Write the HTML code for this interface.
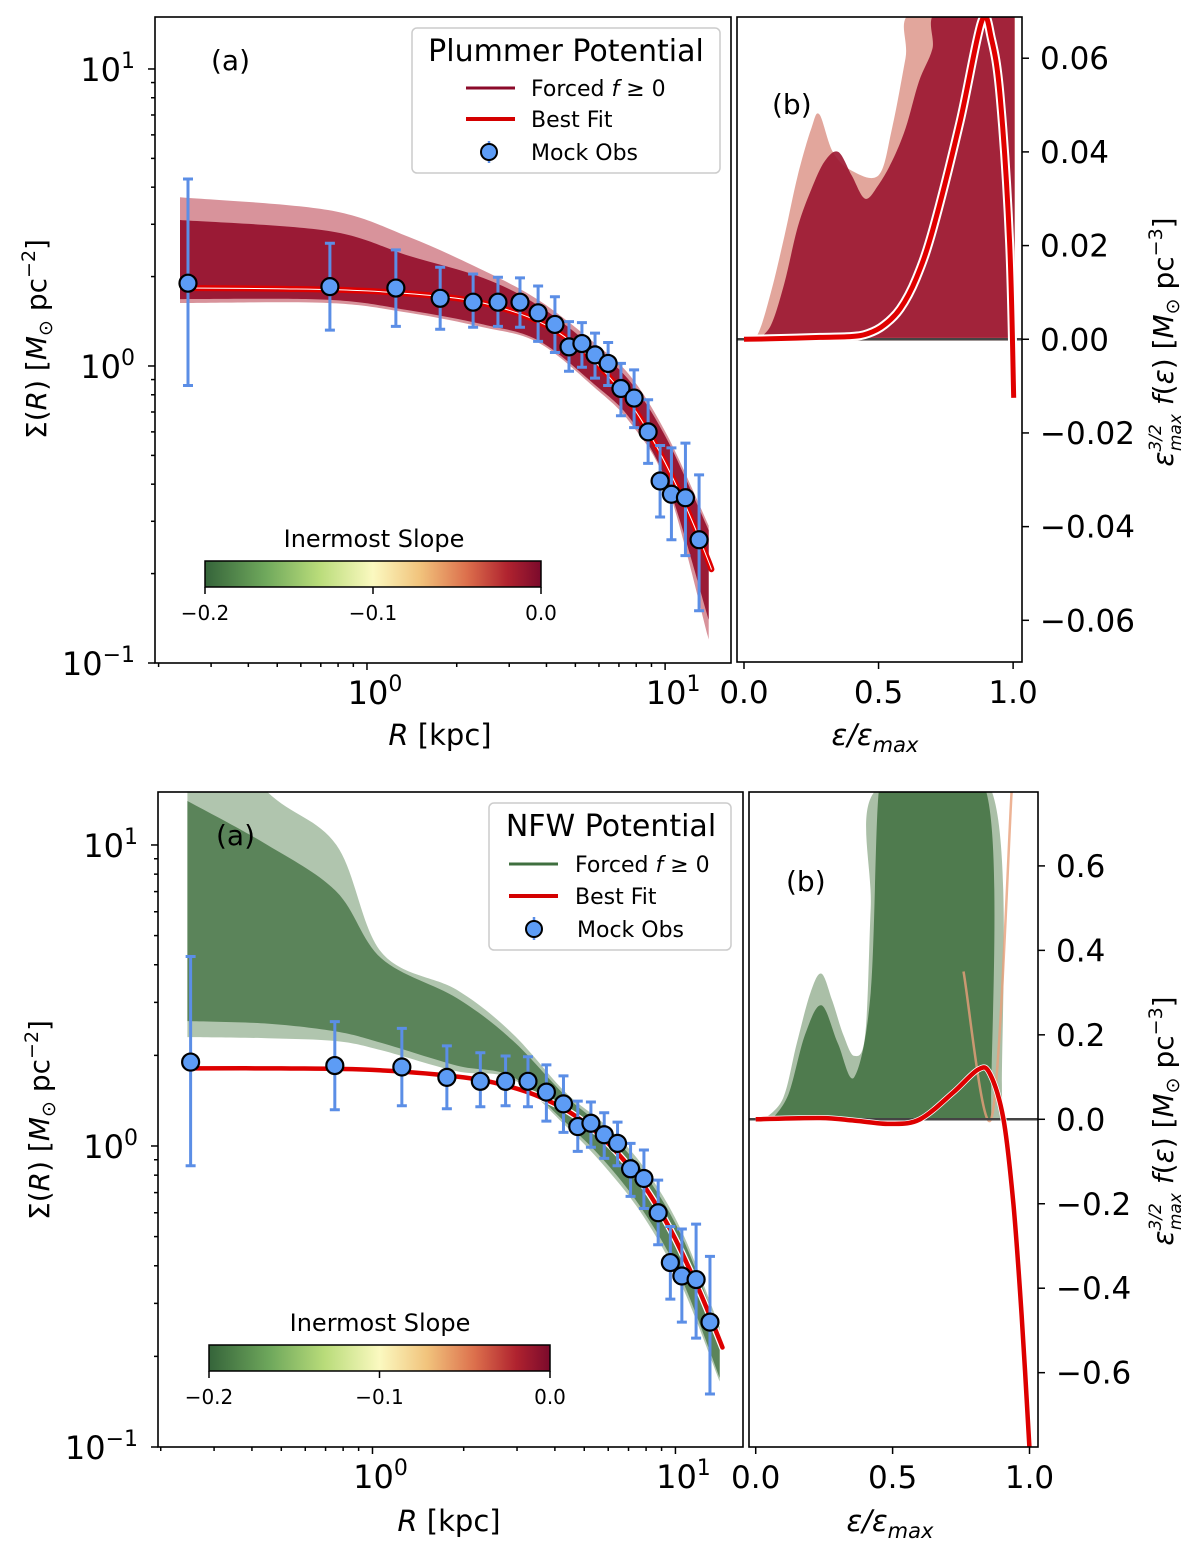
<!DOCTYPE html>
<html><head><meta charset="utf-8"><title>Plummer and NFW potential fits</title>
<style>
html,body{margin:0;padding:0;background:#fff;}
svg{display:block;font-family:"DejaVu Sans","Liberation Sans",sans-serif;}
</style></head>
<body>
<svg id="fig" width="1200" height="1557" viewBox="0 0 1200 1557" xmlns="http://www.w3.org/2000/svg">
<defs>
<linearGradient id="cmap" x1="0" x2="1" y1="0" y2="0">
<stop offset="0" stop-color="#35643a"/><stop offset="0.18" stop-color="#6fa85c"/><stop offset="0.34" stop-color="#b9dc7a"/>
<stop offset="0.5" stop-color="#fbf9c0"/><stop offset="0.64" stop-color="#f1c37c"/><stop offset="0.78" stop-color="#dc6f4c"/>
<stop offset="0.9" stop-color="#b0232f"/><stop offset="1" stop-color="#7b0a2c"/>
</linearGradient>
<clipPath id="cA1"><rect x="155" y="17" width="576" height="646"/></clipPath>
<clipPath id="cB1"><rect x="737" y="17" width="285" height="645"/></clipPath>
<clipPath id="cA2"><rect x="158" y="792" width="585" height="655"/></clipPath>
<clipPath id="cB2"><rect x="749" y="792" width="289" height="655"/></clipPath>
</defs>
<g id="marks"></g>
<g id="axes"></g>

<rect x="155" y="17" width="576" height="646" fill="none" stroke="#000" stroke-width="1.6"/>
<rect x="737" y="17" width="285" height="645" fill="none" stroke="#000" stroke-width="1.6"/>
<rect x="158" y="792" width="585" height="655" fill="none" stroke="#000" stroke-width="1.6"/>
<rect x="749" y="792" width="289" height="655" fill="none" stroke="#000" stroke-width="1.6"/>

<text x="211" y="70" font-size="28">(a)</text>
<text x="772" y="114" font-size="28">(b)</text>
<text x="216" y="845" font-size="28">(a)</text>
<text x="786" y="891" font-size="28">(b)</text>

<g>
<rect x="412" y="28" width="308" height="145" rx="5" fill="#fff" fill-opacity="0.85" stroke="#cccccc" stroke-width="1.5"/>
<text x="566" y="61" font-size="30" text-anchor="middle">Plummer Potential</text>
<line x1="466" y1="88" x2="515" y2="88" stroke="#8b0a2a" stroke-width="3"/>
<text x="531" y="96" font-size="22">Forced <tspan font-style="italic">f</tspan> ≥ 0</text>
<line x1="466" y1="119" x2="515" y2="119" stroke="#d40000" stroke-width="4"/>
<text x="531" y="127" font-size="22">Best Fit</text>
<line x1="489" y1="141" x2="489" y2="163" stroke="#5b8ee6" stroke-width="2.5"/>
<circle cx="489" cy="152" r="8" fill="#5d9cf5" stroke="#000" stroke-width="2"/>
<text x="531" y="160" font-size="22">Mock Obs</text>
</g>
<g>
<rect x="489" y="803" width="242" height="147" rx="5" fill="#fff" fill-opacity="0.85" stroke="#cccccc" stroke-width="1.5"/>
<text x="611" y="836" font-size="30" text-anchor="middle">NFW Potential</text>
<line x1="509" y1="864" x2="558" y2="864" stroke="#3f6f3f" stroke-width="3"/>
<text x="575" y="872" font-size="22">Forced <tspan font-style="italic">f</tspan> ≥ 0</text>
<line x1="509" y1="896" x2="558" y2="896" stroke="#d40000" stroke-width="4"/>
<text x="575" y="904" font-size="22">Best Fit</text>
<line x1="534" y1="917" x2="534" y2="940" stroke="#5b8ee6" stroke-width="2.5"/>
<circle cx="534" cy="929" r="8" fill="#5d9cf5" stroke="#000" stroke-width="2"/>
<text x="577" y="937" font-size="22">Mock Obs</text>
</g>

<g>
<text x="374" y="547" font-size="24" text-anchor="middle">Inermost Slope</text>
<rect x="205" y="561" width="336" height="26" fill="url(#cmap)" stroke="#000" stroke-width="1.5"/>
<line x1="205" y1="587" x2="205" y2="594" stroke="#000" stroke-width="1.5"/><line x1="373" y1="587" x2="373" y2="594" stroke="#000" stroke-width="1.5"/><line x1="541" y1="587" x2="541" y2="594" stroke="#000" stroke-width="1.5"/>
<text x="205" y="620" font-size="20" text-anchor="middle">−0.2</text><text x="373" y="620" font-size="20" text-anchor="middle">−0.1</text><text x="541" y="620" font-size="20" text-anchor="middle">0.0</text>
</g>
<g>
<text x="380" y="1331" font-size="24" text-anchor="middle">Inermost Slope</text>
<rect x="209" y="1345" width="341" height="26" fill="url(#cmap)" stroke="#000" stroke-width="1.5"/>
<line x1="209" y1="1371" x2="209" y2="1378" stroke="#000" stroke-width="1.5"/><line x1="379.5" y1="1371" x2="379.5" y2="1378" stroke="#000" stroke-width="1.5"/><line x1="550" y1="1371" x2="550" y2="1378" stroke="#000" stroke-width="1.5"/>
<text x="209" y="1404" font-size="20" text-anchor="middle">−0.2</text><text x="379.5" y="1404" font-size="20" text-anchor="middle">−0.1</text><text x="550" y="1404" font-size="20" text-anchor="middle">0.0</text>
</g>

<text x="440" y="745" font-size="29" text-anchor="middle"><tspan font-style="italic">R</tspan> [kpc]</text>
<text x="449" y="1531" font-size="29" text-anchor="middle"><tspan font-style="italic">R</tspan> [kpc]</text>
<text x="875" y="745" font-size="29" text-anchor="middle" font-style="italic">ε/ε<tspan font-size="21" dy="7">max</tspan></text>
<text x="890" y="1531" font-size="29" text-anchor="middle" font-style="italic">ε/ε<tspan font-size="21" dy="7">max</tspan></text>
<text transform="translate(46,339) rotate(-90)" font-size="28" text-anchor="middle">Σ(<tspan font-style="italic">R</tspan>) [<tspan font-style="italic">M</tspan><tspan font-size="19" dy="6">⊙</tspan><tspan dy="-6"> pc</tspan><tspan font-size="19" dy="-11">−2</tspan><tspan dy="11">]</tspan></text>
<text transform="translate(49,1120) rotate(-90)" font-size="28" text-anchor="middle">Σ(<tspan font-style="italic">R</tspan>) [<tspan font-style="italic">M</tspan><tspan font-size="19" dy="6">⊙</tspan><tspan dy="-6"> pc</tspan><tspan font-size="19" dy="-11">−2</tspan><tspan dy="11">]</tspan></text>
<text transform="translate(1173,342) rotate(-90)" font-size="28" text-anchor="middle"><tspan font-style="italic">ε</tspan><tspan font-size="17" font-style="italic" dy="-12">3/2</tspan><tspan font-size="17" font-style="italic" dx="-27" dy="20">max</tspan><tspan dy="-8"> </tspan><tspan font-style="italic">f</tspan>(<tspan font-style="italic">ε</tspan>) [<tspan font-style="italic">M</tspan><tspan font-size="19" dy="6">⊙</tspan><tspan dy="-6"> pc</tspan><tspan font-size="19" dy="-11">−3</tspan><tspan dy="11">]</tspan></text>
<text transform="translate(1173,1121) rotate(-90)" font-size="28" text-anchor="middle"><tspan font-style="italic">ε</tspan><tspan font-size="17" font-style="italic" dy="-12">3/2</tspan><tspan font-size="17" font-style="italic" dx="-27" dy="20">max</tspan><tspan dy="-8"> </tspan><tspan font-style="italic">f</tspan>(<tspan font-style="italic">ε</tspan>) [<tspan font-style="italic">M</tspan><tspan font-size="19" dy="6">⊙</tspan><tspan dy="-6"> pc</tspan><tspan font-size="19" dy="-11">−3</tspan><tspan dy="11">]</tspan></text>
</svg>

<script>
const OBS_R = [0.251,0.751,1.25,1.76,2.27,2.75,3.26,3.75,4.27,4.76,5.26,5.82,6.44,7.11,7.87,8.77,9.62,10.5,11.7,13.0];
const OBS_SIG = [1.90,1.85,1.83,1.69,1.64,1.64,1.64,1.51,1.38,1.16,1.19,1.09,1.02,0.84,0.78,0.60,0.41,0.37,0.36,0.26];
const OBS_HI = [4.26,2.59,2.46,2.15,2.04,1.99,1.98,1.86,1.71,1.41,1.40,1.29,1.20,1.02,0.97,0.77,0.54,0.53,0.55,0.43];
const OBS_LO = [0.86,1.32,1.36,1.33,1.35,1.36,1.35,1.21,1.11,0.96,0.99,0.91,0.86,0.68,0.62,0.47,0.31,0.26,0.23,0.15];

const BEST_R = [0.245,0.5,1,2,3,4,5,6,7,8,9,10,11,12,13,14,14.3];
const BEST_SIG_PLUMMER = [1.83,1.82,1.79,1.69,1.54,1.37,1.18,1.00,0.84,0.70,0.575,0.473,0.389,0.320,0.264,0.219,0.207];
const BEST_SIG_NFW = [1.81,1.81,1.79,1.69,1.55,1.38,1.20,1.02,0.86,0.72,0.595,0.49,0.40,0.33,0.272,0.226,0.214];

const BAND1_R = [0.236,0.74,1.38,2.45,3.75,5.77,7.68,10.2,14.0];
const BAND1_OUT_HI = [3.70,3.35,2.72,2.10,1.67,1.20,0.92,0.58,0.29];
const BAND1_OUT_LO = [1.63,1.63,1.51,1.35,1.20,0.85,0.64,0.39,0.12];
const BAND1_IN_HI = [3.1,2.85,2.35,1.98,1.60,1.15,0.88,0.56,0.28];
const BAND1_IN_LO = [1.68,1.67,1.54,1.38,1.22,0.87,0.66,0.40,0.14];

const BAND2_R = [0.245,0.45,0.76,1.07,1.9,2.89,4.33,5.9,7.9,10.5,14.0];
const BAND2_OUT_HI = [30,15,10,4.4,3.3,2.37,1.51,1.17,0.845,0.52,0.25];
const BAND2_OUT_LO = [2.30,2.28,2.23,2.08,1.77,1.67,1.17,0.845,0.577,0.343,0.165];
const BAND2_IN_HI = [14,10,7,4.2,3.1,2.25,1.47,1.13,0.81,0.50,0.24];
const BAND2_IN_LO = [2.6,2.55,2.4,2.2,1.85,1.70,1.20,0.88,0.60,0.36,0.17];

const DF1_OUT_X = [0,0.05,0.1,0.15,0.2,0.25,0.28,0.33,0.4,0.5,0.55,0.6,0.63,1.007];
const DF1_OUT_Y = [0,0.001,0.01,0.022,0.035,0.045,0.048,0.04,0.036,0.035,0.045,0.06,0.07,0.07];
const DF1_IN_X = [0.05,0.1,0.15,0.2,0.25,0.3,0.35,0.4,0.45,0.5,0.55,0.6,0.65,0.7,0.72,1.005];
const DF1_IN_Y = [0,0.003,0.012,0.024,0.032,0.038,0.04,0.035,0.03,0.033,0.038,0.045,0.055,0.062,0.07,0.07];
const DF1_BEST_X = [0,0.1,0.282,0.4,0.46,0.52,0.58,0.64,0.703,0.803,0.884,0.92,0.952,0.987,1.002];
const DF1_BEST_Y = [0,0.0001,0.0004,0.0006,0.0012,0.003,0.0065,0.013,0.0237,0.0465,0.068,0.064,0.0517,0.0207,-0.0125];

const DF2_OUT_X = [0.03,0.1,0.15,0.2,0.24,0.28,0.32,0.36,0.4,0.42,0.44,0.86,0.9];
const DF2_OUT_Y = [0,0.05,0.18,0.3,0.345,0.28,0.2,0.15,0.2,0.5,0.78,0.78,0.05];
const DF2_IN_X = [0.06,0.12,0.18,0.24,0.3,0.36,0.42,0.45,0.5,0.84,0.86];
const DF2_IN_Y = [0,0.06,0.2,0.27,0.18,0.1,0.3,0.78,0.78,0.78,0.03];
const DF2_BEST_X = [0,0.235,0.36,0.491,0.6,0.722,0.813,0.856,0.905,0.941,0.971,1.0,1.01];
const DF2_BEST_Y = [0,0.003,-0.003,-0.011,0.0,0.064,0.118,0.107,0.0,-0.2,-0.463,-0.78,-0.9];
const DF2_ORANGE_X = [0.759,0.862,0.935];
const DF2_ORANGE_Y = [0.35,0.005,0.78];

const LOG_TICKS = [-1,0,1];
const DF1_TICKS = [-0.06,-0.04,-0.02,0,0.02,0.04,0.06];
const DF1_LABELS = ['−0.06','−0.04','−0.02','0.00','0.02','0.04','0.06'];
const DF2_TICKS = [-0.6,-0.4,-0.2,0,0.2,0.4,0.6];
const DF2_LABELS = ['−0.6','−0.4','−0.2','0.0','0.2','0.4','0.6'];
const E_TICKS = [0,0.5,1];
const E_LABELS = ['0.0','0.5','1.0'];

const PA1 = {x0:155,x1:731,y0:17,y1:663,lx0:-0.711,lx1:1.221,ly0:-1,ly1:1.175};
const PA2 = {x0:158,x1:743,y0:792,y1:1447,lx0:-0.708,lx1:1.223,ly0:-1,ly1:1.176};
const PB1 = {x0:737,x1:1022,y0:17,y1:662,xd0:-0.026,xd1:1.033,yd0:-0.0689,yd1:0.0688};
const PB2 = {x0:749,x1:1038,y0:792,y1:1447,xd0:-0.0245,xd1:1.031,yd0:-0.776,yd1:0.775};

function lxs(P,v){return P.x0+(Math.log10(v)-P.lx0)/(P.lx1-P.lx0)*(P.x1-P.x0);}
function lys(P,v){return P.y1-(Math.log10(v)-P.ly0)/(P.ly1-P.ly0)*(P.y1-P.y0);}
function xs(P,v){return P.x0+(v-P.xd0)/(P.xd1-P.xd0)*(P.x1-P.x0);}
function ys(P,v){return P.y1-(v-P.yd0)/(P.yd1-P.yd0)*(P.y1-P.y0);}

const NS='http://www.w3.org/2000/svg';
const marks=document.getElementById('marks');
const axes=document.getElementById('axes');
function mk(tag,attrs,parent){const e=document.createElementNS(NS,tag);for(const k in attrs)e.setAttribute(k,attrs[k]);parent.appendChild(e);return e;}

function smooth(pts){
  if(pts.length<2)return '';
  let d='M'+pts[0][0].toFixed(1)+','+pts[0][1].toFixed(1);
  for(let i=0;i<pts.length-1;i++){
    const p0=pts[Math.max(0,i-1)],p1=pts[i],p2=pts[i+1],p3=pts[Math.min(pts.length-1,i+2)];
    const c1=[p1[0]+(p2[0]-p0[0])/6,p1[1]+(p2[1]-p0[1])/6];
    const c2=[p2[0]-(p3[0]-p1[0])/6,p2[1]-(p3[1]-p1[1])/6];
    d+='C'+c1[0].toFixed(1)+','+c1[1].toFixed(1)+' '+c2[0].toFixed(1)+','+c2[1].toFixed(1)+' '+p2[0].toFixed(1)+','+p2[1].toFixed(1);
  }
  return d;
}
function smoothCont(pts){return smooth(pts).replace(/^M/,'L');}

function logBand(P,Rs,hi,lo,clip,fill,op,name){
  const up=Rs.map((r,i)=>[lxs(P,r),lys(P,hi[i])]);
  const dn=Rs.map((r,i)=>[lxs(P,r),lys(P,lo[i])]).reverse();
  const g=mk('g',{'clip-path':'url(#'+clip+')'},marks);
  const p=mk('path',{d:smooth(up)+smoothCont(dn)+'Z',fill:fill,'fill-opacity':op},g);
  
  
}
function linBand(P,X,Y,baseY,clip,fill,op,name){
  const up=X.map((x,i)=>[xs(P,x),ys(P,Y[i])]);
  const b=ys(P,baseY);
  const g=mk('g',{'clip-path':'url(#'+clip+')'},marks);
  const p=mk('path',{d:smooth(up)+'L'+up[up.length-1][0].toFixed(1)+','+b+'L'+up[0][0].toFixed(1)+','+b+'Z',fill:fill,'fill-opacity':op},g);
  
  
}
function logLine(P,Rs,S,clip,stroke,w,name){
  const pts=Rs.map((r,i)=>[lxs(P,r),lys(P,S[i])]);
  const g=mk('g',{'clip-path':'url(#'+clip+')'},marks);
  const p=mk('path',{d:smooth(pts),fill:'none',stroke:stroke,'stroke-width':w,'stroke-linecap':'round'},g);
  
  
}
function linLine(P,X,Y,clip,stroke,w,name,op){
  const pts=X.map((x,i)=>[xs(P,x),ys(P,Y[i])]);
  const g=mk('g',{'clip-path':'url(#'+clip+')'},marks);
  const p=mk('path',{d:smooth(pts),fill:'none',stroke:stroke,'stroke-width':w,'stroke-opacity':op||1,'stroke-linejoin':'round'},g);
  
  
}
function observations(P,tag){
  for(let i=0;i<OBS_R.length;i++){
    const x=lxs(P,OBS_R[i]);const yh=lys(P,OBS_HI[i]);const yl=lys(P,OBS_LO[i]);
    const e=mk('path',{d:'M'+x+','+yh+'V'+yl+'M'+(x-5)+','+yh+'H'+(x+5)+'M'+(x-5)+','+yl+'H'+(x+5),stroke:'#5b8ee6','stroke-width':3,fill:'none'},marks);
    
    
  }
  for(let i=0;i<OBS_R.length;i++){
    const c=mk('circle',{cx:lxs(P,OBS_R[i]),cy:lys(P,OBS_SIG[i]),r:8.5,fill:'#5d9cf5',stroke:'#000','stroke-width':2.2},marks);
    
    
  }
}

logBand(PA1,BAND1_R,BAND1_OUT_HI,BAND1_OUT_LO,'cA1','#b83a48',0.55,'ensemble-envelope-plummer');
logBand(PA1,BAND1_R,BAND1_IN_HI,BAND1_IN_LO,'cA1','#950f2c',0.92,'ensemble-core-plummer');
logLine(PA1,BEST_R,BEST_SIG_PLUMMER,'cA1','#e00000',6,'best-fit-plummer');
logLine(PA1,BEST_R,BEST_SIG_PLUMMER,'cA1','#ffffff',1,'best-fit-plummer-center');
observations(PA1,'plummer');

logBand(PA2,BAND2_R,BAND2_OUT_HI,BAND2_OUT_LO,'cA2','#4f7f4c',0.45,'ensemble-envelope-nfw');
logBand(PA2,BAND2_R,BAND2_IN_HI,BAND2_IN_LO,'cA2','#3f6e3e',0.75,'ensemble-core-nfw');
logLine(PA2,BEST_R,BEST_SIG_NFW,'cA2','#ffffff',7,'best-fit-nfw-halo');
logLine(PA2,BEST_R,BEST_SIG_NFW,'cA2','#dd0000',4.5,'best-fit-nfw');
observations(PA2,'nfw');

linBand(PB1,DF1_OUT_X,DF1_OUT_Y,-0.0003,'cB1','#cf6a5a',0.6,'df-envelope-plummer');
linBand(PB1,DF1_IN_X,DF1_IN_Y,0.0003,'cB1','#9b1530',0.9,'df-core-plummer');
(function(){const l=mk('line',{x1:PB1.x0,x2:PB1.x1,y1:ys(PB1,0),y2:ys(PB1,0),stroke:'#444','stroke-width':2.5},marks);

})();
linLine(PB1,DF1_BEST_X,DF1_BEST_Y,'cB1','#ffffff',9,'df-best-fit-plummer-halo');
linLine(PB1,DF1_BEST_X,DF1_BEST_Y,'cB1','#e00000',5,'df-best-fit-plummer');

linBand(PB2,DF2_OUT_X,DF2_OUT_Y,-0.003,'cB2','#557f50',0.5,'df-envelope-nfw');
linBand(PB2,DF2_IN_X,DF2_IN_Y,0.0,'cB2','#3f6e3e',0.85,'df-core-nfw');
linLine(PB2,DF2_ORANGE_X,DF2_ORANGE_Y,'cB2','#e9a07a',2.5,'df-orange-curve',0.8);
(function(){const l=mk('line',{x1:PB2.x0,x2:PB2.x1,y1:ys(PB2,0),y2:ys(PB2,0),stroke:'#444','stroke-width':2.5},marks);

})();
linLine(PB2,DF2_BEST_X,DF2_BEST_Y,'cB2','#ffffff',6,'df-best-fit-nfw-halo');
linLine(PB2,DF2_BEST_X,DF2_BEST_Y,'cB2','#dd0000',4.5,'df-best-fit-nfw');

function tick(x1,y1,x2,y2,name){const t=mk('line',{x1:x1,y1:y1,x2:x2,y2:y2,stroke:'#000','stroke-width':1.5},axes);

}
function label(x,y,txt,anchor,size,name){const t=mk('text',{x:x,y:y,'text-anchor':anchor,'font-size':size},axes);t.textContent=txt;

return t;}
function powLabel(x,y,exp,anchor,name){
  const t=mk('text',{x:x,y:y,'text-anchor':anchor,'font-size':32},axes);
  
  
  const a=mk('tspan',{},t);a.textContent='10';
  const b=mk('tspan',{'font-size':22,dy:-13},t);b.textContent=exp<0?'−'+(-exp):String(exp);
}
function logAxes(P,tag){
  for(let d=-2;d<=1;d++){
    for(let m=1;m<=9;m++){
      const v=m*Math.pow(10,d);const lv=Math.log10(v);
      if(lv>=P.lx0-1e-9&&lv<=P.lx1){const x=lxs(P,v);tick(x,P.y1,x,P.y1+(m===1?7:4),'x-tick-'+tag);}
      if(lv>=P.ly0-1e-9&&lv<=P.ly1){const y=lys(P,v);tick(P.x0,y,P.x0-(m===1?7:4),y,'y-tick-'+tag);}
    }
  }
  LOG_TICKS.forEach(e=>{
    if(e>=P.lx0&&e<=P.lx1){powLabel(lxs(P,Math.pow(10,e))+8,P.y1+41,e,'middle','x-tick-label-'+tag);}
    powLabel(P.x0-20,lys(P,Math.pow(10,e))+12,e,'end','y-tick-label-'+tag);
  });
}
function linAxes(P,T,L,tag){
  E_TICKS.forEach((v,i)=>{const x=xs(P,v);tick(x,P.y1,x,P.y1+7,'x-tick-'+tag);label(x,P.y1+41,E_LABELS[i],'middle',31,'x-tick-label-'+tag);});
  T.forEach((v,i)=>{const y=ys(P,v);tick(P.x1,y,P.x1+7,y,'y-tick-'+tag);label(P.x1+18,y+11,L[i],'start',31,'y-tick-label-'+tag);});
}
logAxes(PA1,'plummer-profile');
logAxes(PA2,'nfw-profile');
linAxes(PB1,DF1_TICKS,DF1_LABELS,'plummer-df');
linAxes(PB2,DF2_TICKS,DF2_LABELS,'nfw-df');
</script>
</body></html>
